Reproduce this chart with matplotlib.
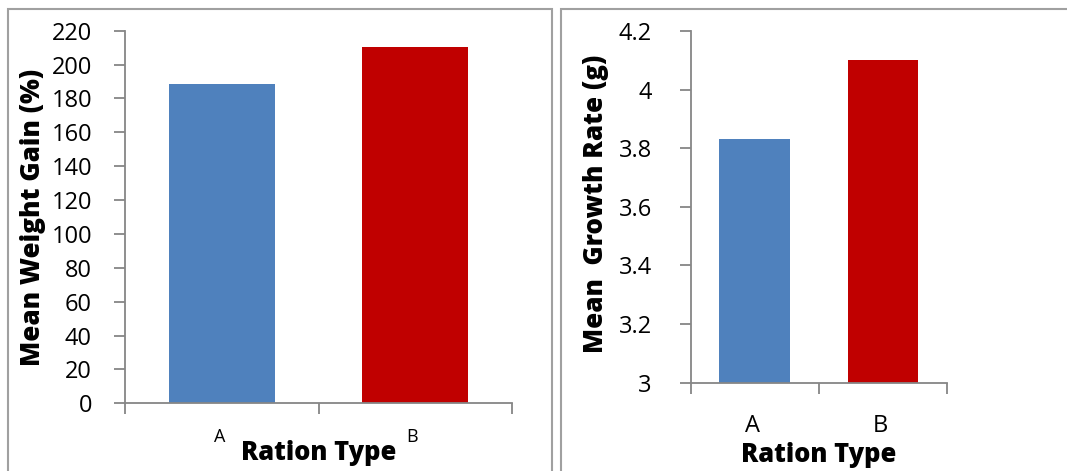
import matplotlib.pyplot as plt
from matplotlib.patches import Rectangle

# данные
rations = ['A', 'B']
weight_gain = [188.5, 210.4]
growth_rate = [3.83, 4.10]
bar_colors = ['#4F81BD', '#C00000']

plt.rcParams['font.family'] = ['Open Sans', 'DejaVu Sans']
W, H = 1067, 471
fig = plt.figure(figsize=(W / 100, H / 100), dpi=100)

# рамки панелей
fig.patches.append(Rectangle((8.3 / W, -0.1), (551.7 - 8.3) / W, 1.1 - 9 / H,
                             transform=fig.transFigure, fill=False,
                             edgecolor='#a0a0a0', linewidth=1.5))
fig.patches.append(Rectangle((561 / W, -0.1), 0.5, 1.1 - 9 / H,
                             transform=fig.transFigure, fill=False,
                             edgecolor='#a0a0a0', linewidth=1.5))

grey = '#868686'


def style_axes(ax, pad):
    for s in ['top', 'right']:
        ax.spines[s].set_visible(False)
    for s in ['left', 'bottom']:
        ax.spines[s].set_color(grey)
        ax.spines[s].set_linewidth(1.3)
    ax.tick_params(axis='y', direction='out', length=8, width=1.3, color=grey,
                   labelsize=17, pad=pad)
    ax.tick_params(axis='x', direction='out', length=8, width=1.3, color=grey,
                   labelbottom=False)
    # деления между категориями, как в Excel
    ax.set_xticks([-0.5, 0.5, 1.5])
    ax.set_xlim(-0.5, 1.5)


# левый график
ax1 = fig.add_axes([125.3 / W, 1 - 403.3 / H, (511.7 - 125.3) / W, (403.3 - 30.7) / H])
ax1.bar(range(len(rations)), weight_gain, width=0.55, color=bar_colors)
ax1.set_ylim(0, 220)
ax1.set_yticks(range(0, 221, 20))
style_axes(ax1, 16)
for i, r in enumerate(rations):
    ax1.text(i - 0.014, -0.104, r, transform=ax1.get_xaxis_transform(),
             ha='center', va='baseline', fontsize=13)
ax1.set_ylabel('Mean Weight Gain (%)', fontsize=18.8, fontweight='heavy')
ax1.yaxis.set_label_coords(-0.205, 0.50)
ax1.text(0.5, -0.152, 'Ration Type', transform=ax1.transAxes,
         ha='center', va='baseline', fontsize=18.4, fontweight='heavy')

# правый график
ax2 = fig.add_axes([690.6 / W, 1 - 382.5 / H, (947 - 690.6) / W, (382.5 - 31) / H])
ax2.bar(range(len(rations)), growth_rate, width=0.55, color=bar_colors)
ax2.set_ylim(3, 4.2)
ax2.set_yticks([3, 3.2, 3.4, 3.6, 3.8, 4, 4.2])
ax2.set_yticklabels(['3', '3.2', '3.4', '3.6', '3.8', '4', '4.2'])
style_axes(ax2, 20)
for i, r in enumerate(rations):
    ax2.text(i - 0.02, -0.140, r, transform=ax2.get_xaxis_transform(),
             ha='center', va='baseline', fontsize=17)
ax2.set_ylabel('Mean  Growth Rate (g)', fontsize=18.7, fontweight='heavy')
ax2.yaxis.set_label_coords(-0.318, 0.508)
ax2.text(0.5, -0.226, 'Ration Type', transform=ax2.transAxes,
         ha='center', va='baseline', fontsize=18.4, fontweight='heavy')

fig.savefig('out.png', dpi=100)
